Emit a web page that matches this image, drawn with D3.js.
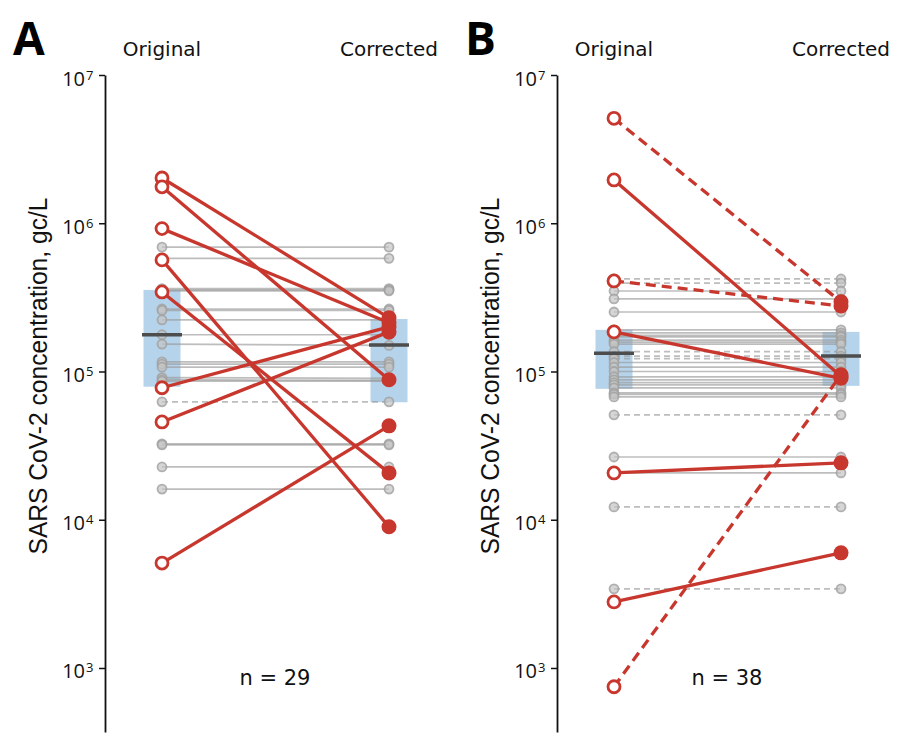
<!DOCTYPE html>
<html>
<head>
<meta charset="utf-8">
<script src="https://cdn.jsdelivr.net/npm/d3@7"></script>
<style>
  body { margin: 0; background: #fff; }
  svg { display: block; }
</style>
</head>
<body>
<script>
// shared
var groups = ["Original", "Corrected"];
var tickVals = [1e3, 1e4, 1e5, 1e6, 1e7];

// panel A: unchanged samples (grey), same value before/after
var aGrayOrig = [6.9e5, 5.8e5, 3.62e5, 3.55e5, 3.5e5, 2.64e5, 2.58e5, 2.23e5, 1.77e5, 1.53e5, 1.16e5,
                 1.12e5, 1.07e5, 9.1e4, 8.8e4, 8.6e4, 6.24e4, 3.25e4, 3.2e4, 2.27e4, 1.61e4];
var aGrayCorr = [6.9e5, 5.8e5, 3.62e5, 3.55e5, 3.5e5, 2.64e5, 2.58e5, 2.23e5, 1.77e5, 1.50e5, 1.16e5,
                 1.12e5, 1.07e5, 9.0e4, 8.7e4, 8.6e4, 6.24e4, 3.25e4, 3.2e4, 2.27e4, 1.61e4];
var aGrayDash = [0, 0, 0, 0, 0, 0, 0, 0, 0, 0, 0, 0, 0, 0, 0, 0, 1, 0, 0, 0, 0];
// panel A: corrected samples (red)
var aRedOrig = [2.02e6, 1.76e6, 9.2e5, 5.66e5, 3.44e5, 7.77e4, 4.57e4, 5.1e3];
var aRedCorr = [2.30e5, 8.8e4, 2.13e5, 8.96e3, 2.07e4, 2.0e5, 1.85e5, 4.3e4];
var aRedDash = [0, 0, 0, 0, 0, 0, 0, 0];
// panel A: box (q1, median, q3)
var aBoxOrig = [7.9e4, 1.77e5, 3.55e5];
var aBoxCorr = [6.2e4, 1.51e5, 2.26e5];

// panel B
var bGrayOrig = [4.21e5, 3.95e5, 3.49e5, 3.09e5, 2.52e5, 1.91e5, 1.82e5, 1.75e5, 1.71e5, 1.63e5, 1.58e5,
                 1.53e5, 1.36e5, 1.27e5, 1.22e5, 1.15e5, 1.07e5, 1.0e5, 9.2e4, 8.78e4, 8.4e4, 8.12e4,
                 7.75e4, 7.18e4, 7.0e4, 6.74e4, 5.1e4, 2.65e4, 2.07e4, 1.22e4, 3.42e3];
var bGrayCorr = [4.21e5, 3.95e5, 3.49e5, 3.09e5, 2.52e5, 1.91e5, 1.82e5, 1.75e5, 1.71e5, 1.63e5, 1.58e5,
                 1.53e5, 1.36e5, 1.27e5, 1.22e5, 1.15e5, 1.07e5, 1.0e5, 9.2e4, 8.78e4, 8.4e4, 8.12e4,
                 7.75e4, 7.18e4, 7.0e4, 6.74e4, 5.1e4, 2.65e4, 2.07e4, 1.22e4, 3.42e3];
var bGrayDash = [1, 1, 0, 0, 0, 0, 0, 0, 0, 0, 0, 0, 1, 1, 1, 0, 0, 0, 0, 0, 0, 0, 0, 0, 0, 0, 1, 0, 0, 1, 1];
var bRedOrig = [5.1e6, 4.08e5, 1.96e6, 1.85e5, 7.47e2, 2.07e4, 2.79e3];
var bRedCorr = [2.95e5, 2.77e5, 9.3e4, 9.0e4, 9.5e4, 2.42e4, 5.98e3];
var bRedDash = [1, 1, 0, 0, 1, 0, 0];
var bBoxOrig = [7.64e4, 1.33e5, 1.91e5];
var bBoxCorr = [8.0e4, 1.27e5, 1.85e5];

var width = 900, height = 748;
var red = "#c8372d";

var svg = d3.select("body").append("svg")
	.attr("width", width)
	.attr("height", height);

var y = d3.scaleLog()
	.domain([370, 1e7])
	.range([732, 75]);

function pairs(o, c, dash) {
	return o.map(function(v, i) { return {o: v, c: c[i], dash: dash[i] == 1}; });
}

function drawPanel(axisX, letter, n, grayO, grayC, grayD, redO, redC, redD, boxO, boxC) {
	var g = svg.append("g");
	var x = d3.scalePoint()
		.domain(groups)
		.range([axisX + 57, axisX + 284]);

	// boxes
	[boxO, boxC].forEach(function(b, i) {
		var cx = x(groups[i]);
		g.append("rect")
			.attr("x", cx - 18.5)
			.attr("width", 37)
			.attr("y", y(b[2]))
			.attr("height", y(b[0]) - y(b[2]))
			.attr("fill", "#b5d3ea");
	});

	// grey lines + points
	var gp = pairs(grayO, grayC, grayD);
	g.selectAll(".gline").data(gp).enter()
		.append("line")
		.attr("x1", x("Original")).attr("x2", x("Corrected"))
		.attr("y1", function(d) { return y(d.o); })
		.attr("y2", function(d) { return y(d.c); })
		.attr("stroke", "#9a9a9a")
		.attr("stroke-opacity", 0.65)
		.attr("stroke-width", 1.7)
		.attr("stroke-dasharray", function(d) { return d.dash ? "6,4" : null; });

	groups.forEach(function(grp) {
		g.selectAll(".gpt-" + grp).data(gp).enter()
			.append("circle")
			.attr("cx", x(grp))
			.attr("cy", function(d) { return y(grp == "Original" ? d.o : d.c); })
			.attr("r", 4.5)
			.attr("fill", "#c4c4c4")
			.attr("fill-opacity", 0.7)
			.attr("stroke", "#a0a0a0")
			.attr("stroke-opacity", 0.8)
			.attr("stroke-width", 1.8);
	});

	// medians
	[boxO, boxC].forEach(function(b, i) {
		var cx = x(groups[i]);
		g.append("line")
			.attr("x1", cx - 20).attr("x2", cx + 20)
			.attr("y1", y(b[1])).attr("y2", y(b[1]))
			.attr("stroke", "#4d4d4d")
			.attr("stroke-width", 3.5);
	});

	// red lines + points
	var rp = pairs(redO, redC, redD);
	g.selectAll(".rline").data(rp).enter()
		.append("line")
		.attr("x1", x("Original")).attr("x2", x("Corrected"))
		.attr("y1", function(d) { return y(d.o); })
		.attr("y2", function(d) { return y(d.c); })
		.attr("stroke", red)
		.attr("stroke-width", 3.3)
		.attr("stroke-dasharray", function(d) { return d.dash ? "10,6" : null; });

	g.selectAll(".rcorr").data(rp).enter()
		.append("circle")
		.attr("cx", x("Corrected"))
		.attr("cy", function(d) { return y(d.c); })
		.attr("r", 7.5)
		.attr("fill", red);

	g.selectAll(".rorig").data(rp).enter()
		.append("circle")
		.attr("cx", x("Original"))
		.attr("cy", function(d) { return y(d.o); })
		.attr("r", 6)
		.attr("fill", "#fff")
		.attr("stroke", red)
		.attr("stroke-width", 2.8);

	// axis
	var axis = g.append("g")
		.attr("transform", "translate(" + axisX + ",0)")
		.call(d3.axisLeft(y).tickValues(tickVals).tickSize(6).tickSizeOuter(0).tickFormat(""));
	axis.select(".domain").attr("stroke", "#111").attr("stroke-width", 1.8);
	axis.selectAll(".tick line").attr("stroke", "#111").attr("stroke-width", 1.5);
	axis.selectAll(".tick").append("text")
		.attr("x", -20)
		.attr("y", 10)
		.attr("fill", "#111")
		.attr("text-anchor", "end")
		.style("font-family", "'Open Sans', sans-serif")
		.style("font-size", "20px")
		.text("10");
	axis.selectAll(".tick").append("text")
		.attr("x", -19)
		.attr("y", 4)
		.attr("fill", "#111")
		.attr("text-anchor", "start")
		.style("font-family", "'Open Sans', sans-serif")
		.style("font-size", "13px")
		.text(function(d) { return Math.round(Math.log10(d)); });

	// y label
	g.append("text")
		.attr("transform", "rotate(-90)")
		.attr("x", -376)
		.attr("y", axisX - 58)
		.attr("text-anchor", "middle")
		.attr("textLength", 357)
		.attr("lengthAdjust", "spacingAndGlyphs")
		.style("font-family", "'Liberation Sans Narrow', 'Liberation Sans', sans-serif")
		.style("font-size", "25px")
		.attr("fill", "#111")
		.text("SARS CoV-2 concentration, gc/L");

	// column headers
	groups.forEach(function(grp) {
		g.append("text")
			.attr("x", x(grp))
			.attr("y", 56)
			.attr("text-anchor", "middle")
			.style("font-family", "'DejaVu Sans', sans-serif")
			.style("font-size", "20px")
			.attr("fill", "#111")
			.text(grp);
	});

	// panel letter
	g.append("text")
		.attr("x", axisX - 92)
		.attr("y", 55)
		.style("font-family", "'Open Sans', sans-serif")
		.style("font-weight", "bold")
		.style("font-size", "46px")
		.attr("fill", "#000")
		.text(letter);

	// n
	g.append("text")
		.attr("x", axisX + 170)
		.attr("y", 685)
		.attr("text-anchor", "middle")
		.style("font-family", "'DejaVu Sans', sans-serif")
		.style("font-size", "21px")
		.attr("fill", "#111")
		.text("n = " + n);
}

drawPanel(105, "A", 29, aGrayOrig, aGrayCorr, aGrayDash, aRedOrig, aRedCorr, aRedDash, aBoxOrig, aBoxCorr);
drawPanel(557, "B", 38, bGrayOrig, bGrayCorr, bGrayDash, bRedOrig, bRedCorr, bRedDash, bBoxOrig, bBoxCorr);
</script>
</body>
</html>
